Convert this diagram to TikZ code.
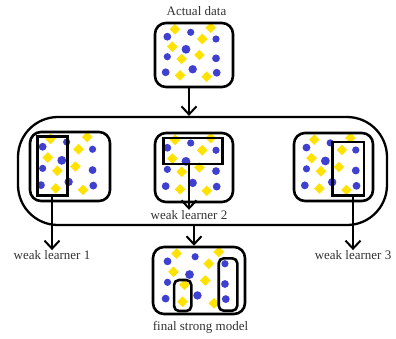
\documentclass[tikz,border=0pt]{standalone}
\usepackage{fontspec}
\setmainfont{Liberation Serif}
\usetikzlibrary{arrows.meta}
\definecolor{dotblue}{RGB}{63,63,208}
\definecolor{dotyellow}{RGB}{255,226,0}
\definecolor{labelgrey}{RGB}{50,50,50}
\tikzset{
  databox/.style={draw, line width=2.6pt, rounded corners=11pt, inner sep=0pt},
  pickbox/.style={draw, line width=2.6pt, inner sep=0pt},
  pickround/.style={draw, line width=2.6pt, rounded corners=5pt, inner sep=0pt},
  framebox/.style={draw, line width=2.3pt, rounded corners=40pt, inner sep=0pt},
  flow/.style={line width=2pt, -{Straight Barb[length=8pt,width=15pt,line width=2pt]}},
  tag/.style={text=labelgrey, font=\fontsize{13}{15}\selectfont, inner sep=0pt, anchor=base},
}
% scatter of blue circles and yellow diamonds inside a box
% #1,#2: top-left corner, #3,#4: width and height
\newcommand\dotfield[4]{%
  \begin{scope}[shift={(#1,#2)}]
    \foreach \u/\v/\r in {.158/.214/3.9, .458/.145/3.6, .782/.25/3.6,
        .397/.411/4.4, .158/.527/3.6, .782/.552/3.9, .137/.770/3.9,
        .483/.723/4.2, .791/.777/3.9}
      \fill[dotblue] (\u*#3,\v*#4) circle[radius=\r];
    \foreach \u/\v in {.256/.098, .714/.073, .606/.25, .222/.370,
        .568/.5, .342/.5625, .321/.817, .663/.839}
      \fill[dotyellow] (\u*#3,\v*#4) +(0,-5.3) -- +(5.3,0) -- +(0,5.3) -- +(-5.3,0) -- cycle;
  \end{scope}}
\begin{document}
\begin{tikzpicture}[x=1pt,y=-1pt]
  \useasboundingbox (0,0) rectangle (396,338);

  % dots of each data set
  \dotfield{155}{23}{78}{64}
  \dotfield{30}{132}{80}{69}
  \dotfield{155}{133}{78}{69}
  \dotfield{294}{133}{79}{68}
  \dotfield{153}{247}{92}{67}

  % data boxes
  \node[databox, minimum width=78pt, minimum height=64pt] (actual) at (194,55) {};
  \node[databox, minimum width=80pt, minimum height=69pt] (b1) at (70,166.5) {};
  \node[databox, minimum width=78pt, minimum height=69pt] (b2) at (194,167.5) {};
  \node[databox, minimum width=79pt, minimum height=68pt] (b3) at (333.5,167) {};
  \node[databox, minimum width=92pt, minimum height=67pt] (final) at (199,280.5) {};

  % subsets picked by each weak learner
  \node[pickbox, minimum width=30pt, minimum height=59.4pt] (r1) at (52.7,166) {};
  \node[pickbox, minimum width=59.4pt, minimum height=26pt] (r2) at (193,151) {};
  \node[pickbox, minimum width=31.3pt, minimum height=53.7pt] (r3) at (348.3,168.8) {};
  \node[pickround, minimum width=17.3pt, minimum height=31pt] (f1) at (182.7,295.5) {};
  \node[pickround, minimum width=18.6pt, minimum height=52.4pt] (f2) at (228,284.5) {};

  % frame around the three weak learners
  \node[framebox, minimum width=369pt, minimum height=108pt] (frame) at (202.5,171) {};

  % labels
  \node[tag] (title) at (196.5,15) {Actual data};
  \node[tag] (wl1) at (52,259.3) {weak learner 1};
  \node[tag] (wl2) at (189,219) {weak learner 2};
  \node[tag] (wl3) at (353,259.3) {weak learner 3};
  \node[tag] (strong) at (200.5,330) {final strong model};

  % connectors
  \draw[flow] ([xshift=-5pt]actual.south) -- ([xshift=-5pt]actual.south |- frame.north);
  \draw[flow] (wl1.north |- r1.south) -- (wl1.north);
  \draw[flow] (wl2.north |- r2.south) -- (wl2.north);
  \draw[flow] (wl3.north |- r3.south) -- (wl3.north);
  \draw[flow] ([xshift=-5pt]final.north |- frame.south) -- ([xshift=-5pt]final.north);
\end{tikzpicture}
\end{document}
